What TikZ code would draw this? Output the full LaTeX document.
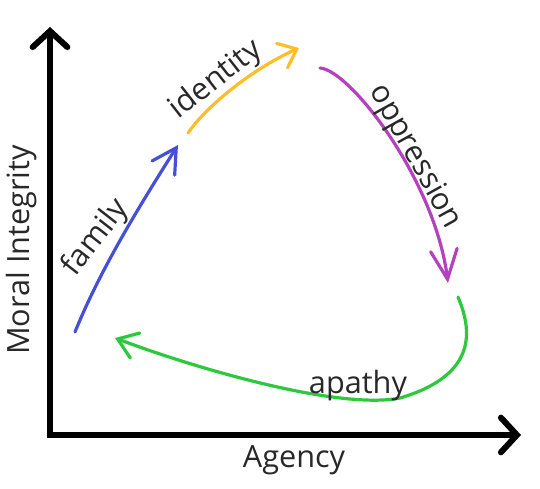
\documentclass[tikz,border=0pt]{standalone}
\usepackage{fontspec}
\setmainfont{Open Sans}
\definecolor{FamilyBlue}{RGB}{70,80,215}
\definecolor{IdentityYellow}{RGB}{255,190,40}
\definecolor{OppressionPurple}{RGB}{180,65,190}
\definecolor{ApathyGreen}{RGB}{45,200,60}
\definecolor{InkGray}{RGB}{40,40,40}
\usetikzlibrary{arrows.meta}
\tikzset{
  axis/.style={line width=4.5pt, line join=miter,
    {Straight Barb[length=12pt, width=26pt, line cap=round]}-{Straight Barb[length=12pt, width=26pt, line cap=round]}},
  flow/.style={line width=2.4pt, line cap=round,
    -{Straight Barb[length=#1, width=20pt, line cap=round]}},
  flow/.default=18pt,
  lbl/.style={text=InkGray, inner sep=0pt, font=\fontsize{23}{27}\selectfont}
}

\begin{document}
\begin{tikzpicture}[x=0.75pt, y=-0.75pt]
  \useasboundingbox (0,0) rectangle (540,489);

  % axes
  \coordinate (ytop) at (50,27);
  \coordinate (origin) at (50,435);
  \coordinate (xend) at (521,435);
  \draw[axis] (ytop) -- (origin) -- (xend);
  \node[lbl, rotate=90] (ylabel) at (22,250) {Moral Integrity};
  \node[lbl] (xlabel) at (294,460) {Agency};

  % cycle
  \coordinate (famstart) at (75,332);
  \coordinate (famend)   at (178,145);
  \coordinate (idstart)  at (188,133);
  \coordinate (idend)    at (299,48);
  \coordinate (oppstart) at (320,68);
  \coordinate (oppend)   at (448,283);
  \coordinate (apastart) at (458,297);
  \coordinate (apamid)   at (400,398);
  \coordinate (apaend)   at (115,338);

  \draw[flow, FamilyBlue] (famstart) .. controls (100,270) and (140,205) .. (famend);
  \draw[flow=12pt, IdentityYellow] (idstart) .. controls (205,108) and (250,70) .. (idend);
  \draw[flow=22pt, OppressionPurple] (oppstart) .. controls (350,70) and (435,180) .. (oppend);
  \draw[flow=14pt, ApathyGreen] (apastart) .. controls (472,330) and (478,375) .. (apamid)
    .. controls (340,410) and (200,370) .. (apaend);

  \node[lbl, rotate=52] (famlabel) at (96,238) {family};
  \node[lbl, rotate=38] (idlabel) at (216,80) {identity};
  \node[lbl, rotate=-61] (opplabel) at (415,157) {oppression};
  \node[lbl] (apalabel) at (358,386) {apathy};
\end{tikzpicture}
\end{document}
